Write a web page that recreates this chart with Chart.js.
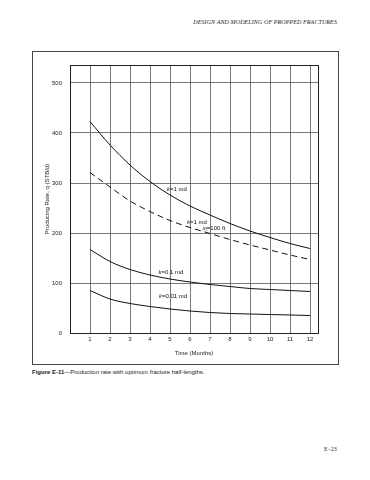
<!DOCTYPE html>
<html>
<head>
<meta charset="utf-8">
<script src="https://cdn.jsdelivr.net/npm/chart.js@4.4.1/dist/chart.umd.min.js"></script>
<style>
  body { margin: 0; width: 370px; height: 480px; background: #fff; position: relative; overflow: hidden; font-family: "Liberation Sans", Arial, sans-serif; }
  #header { position: absolute; right: 33px; top: 19px; font: italic 6px "Liberation Serif", serif; color: #222; letter-spacing: 0.1px; }
  #frame { position: absolute; left: 32px; top: 51px; width: 305px; height: 312px; border: 1px solid #444; }
  #wrap { position: absolute; left: 33px; top: 52px; width: 304px; height: 311px; }
  #caption { position: absolute; left: 32px; top: 369px; font-size: 6px; color: #222; }
  #page { position: absolute; left: 324px; top: 446px; font: 6px "Liberation Serif", serif; color: #333; }
</style>
</head>
<body>
<div id="header">DESIGN AND MODELING OF PROPPED FRACTURES</div>
<div id="frame"></div>
<div id="wrap"><canvas id="chart" width="304" height="311"></canvas></div>
<div id="caption"><b>Figure E-11</b>—Production rate with optimum fracture half-lengths.</div>
<div id="page">E–23</div>
<script>
// months
const months = [1, 2, 3, 4, 5, 6, 7, 8, 9, 10, 11, 12];
const xTicks = [0, 1, 2, 3, 4, 5, 6, 7, 8, 9, 10, 11, 12];
const yTicks = [0, 100, 200, 300, 400, 500];
// producing rate, STB/d
const k1 = [423, 376, 336, 303, 276, 254, 236, 219, 204, 191, 179, 169];
const k1xf100 = [321, 292, 264, 243, 225, 211, 199, 187, 176, 166, 156, 147];
const k01 = [167, 143, 127, 116, 108, 102, 97, 93, 89, 87, 85, 83];
const k001 = [85, 68, 59, 53, 48, 44, 41, 39, 38, 37, 36, 35];

// curve labels: [text parts, month, rate]
const curveLabels = [
  [[["k", true], ["=1 md", false]], 5.35, 288],
  [[["k", true], ["=1 md", false]], 6.35, 222],
  [[["x", true], ["f", "sub"], ["=100 ft", false]], 7.2, 209],
  [[["k", true], ["=0.1 md", false]], 5.05, 122],
  [[["k", true], ["=0.01 md", false]], 5.15, 74]
];

function toPoints(vals) {
  return vals.map((v, i) => ({ x: months[i], y: v }));
}

const labelPlugin = {
  id: "curveLabels",
  afterDatasetsDraw(chart) {
    const ctx = chart.ctx;
    const xs = chart.scales.x, ys = chart.scales.y;
    const a = chart.chartArea;
    ctx.save();
    // plot frame
    ctx.strokeStyle = "#222";
    ctx.lineWidth = 1;
    ctx.strokeRect(Math.round(a.left) + 0.5, Math.round(a.top) + 0.5, Math.round(a.right - a.left), Math.round(a.bottom - a.top));
    ctx.fillStyle = "#111";
    ctx.textBaseline = "middle";
    curveLabels.forEach(([parts, mx, ry]) => {
      const fontFor = p => (p[1] === "sub" ? "4.5px" : "6px") + ' "Liberation Sans", Arial';
      const fontStyle = p => (p[1] === true ? "italic " : "") + fontFor(p);
      let w = 0;
      parts.forEach(p => { ctx.font = fontStyle(p); w += ctx.measureText(p[0]).width; });
      let x = xs.getPixelForValue(mx) - w / 2;
      const y = ys.getPixelForValue(ry);
      parts.forEach(p => {
        ctx.font = fontStyle(p);
        ctx.fillText(p[0], x, p[1] === "sub" ? y + 1.5 : y);
        x += ctx.measureText(p[0]).width;
      });
    });
    ctx.restore();
  }
};

const lineStyle = { borderColor: "#111", borderWidth: 1, pointRadius: 0, cubicInterpolationMode: "monotone", fill: false };

new Chart(document.getElementById("chart"), {
  type: "line",
  data: {
    datasets: [
      Object.assign({ label: "k=1 md", data: toPoints(k1) }, lineStyle),
      Object.assign({ label: "k=1 md, xf=100 ft", data: toPoints(k1xf100), borderDash: [6, 4] }, lineStyle),
      Object.assign({ label: "k=0.1 md", data: toPoints(k01) }, lineStyle),
      Object.assign({ label: "k=0.01 md", data: toPoints(k001) }, lineStyle)
    ]
  },
  options: {
    responsive: false,
    animation: false,
    layout: { padding: { top: 13, right: 19, bottom: 0, left: 0 } },
    plugins: { legend: { display: false }, tooltip: { enabled: false } },
    scales: {
      x: {
        type: "linear",
        min: 0,
        max: 12.4,
        afterFit: s => { s.height = 30; },
        afterBuildTicks: s => { s.ticks = xTicks.map(v => ({ value: v })); },
        ticks: {
          autoSkip: false,
          padding: 3,
          color: "#222",
          font: { size: 6, family: "Liberation Sans" },
          callback: v => (v > 0 ? v : "")
        },
        grid: { color: "#555", lineWidth: 0.8, drawTicks: false },
        border: { color: "#222", width: 1 },
        title: { display: true, text: "Time (Months)", color: "#222", font: { size: 6, family: "Liberation Sans" }, padding: { top: 0, bottom: 6 } }
      },
      y: {
        min: 0,
        max: 536,
        afterFit: s => { s.width = 37; },
        afterBuildTicks: s => { s.ticks = yTicks.map(v => ({ value: v })); },
        ticks: {
          autoSkip: false,
          padding: 8,
          color: "#222",
          font: { size: 6, family: "Liberation Sans" }
        },
        grid: { color: "#555", lineWidth: 0.8, drawTicks: false },
        border: { color: "#222", width: 1 },
        title: { display: true, text: "Producing Rate, q (STB/d)", color: "#222", font: { size: 6, family: "Liberation Sans" }, padding: { top: 11, bottom: 0 } }
      }
    }
  },
  plugins: [labelPlugin]
});
</script>
</body>
</html>
